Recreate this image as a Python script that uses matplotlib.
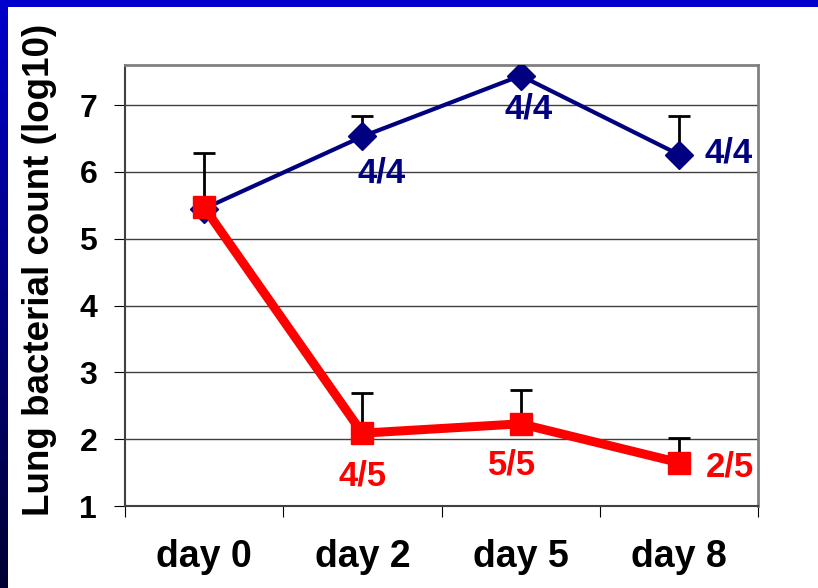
import numpy as np
import matplotlib.pyplot as plt
from matplotlib.patches import Rectangle

# data
days = ["day 0", "day 2", "day 5", "day 8"]
blue_vals = [5.45, 6.53, 7.44, 6.26]
blue_err = [0.0, 0.31, 0.2, 0.57]
blue_labels = ["", "4/4", "4/4", "4/4"]
red_vals = [5.47, 2.09, 2.23, 1.65]
red_err = [0.82, 0.6, 0.5, 0.37]
red_labels = ["", "4/5", "5/5", "2/5"]

navy = "#000080"
red = "#FF0000"
font = "Liberation Sans"

fig = plt.figure(figsize=(8.18, 5.88), dpi=100)
fig.patch.set_facecolor("white")

# blue slide frame: top bar and a gradient bar on the left
fig.patches.append(Rectangle((0, 1 - 7 / 588), 1, 7 / 588, transform=fig.transFigure,
                             facecolor="#0000CC", edgecolor="none", zorder=0))
grad = np.linspace(0, 1, 256).reshape(-1, 1)
bax = fig.add_axes([0, 0, 8 / 818, 1])
top_c = np.array([0.0, 0.0, 0.8])
bot_c = np.array([0.0, 0.0, 0.2])
img = top_c * (1 - grad[..., None]) + bot_c * grad[..., None]
bax.imshow(img, aspect="auto", extent=(0, 1, 0, 1))
bax.axis("off")

ax = fig.add_axes([125 / 818, 1 - 506 / 588, (758 - 125) / 818, (506 - 65) / 588])
x = np.arange(len(days))

ax.errorbar(x, red_vals, yerr=[np.zeros(4), red_err], fmt="none", ecolor="black",
            elinewidth=2, capsize=8, capthick=2, zorder=2)
ax.errorbar(x, blue_vals, yerr=[np.zeros(4), blue_err], fmt="none", ecolor="black",
            elinewidth=2, capsize=8, capthick=2, zorder=2)
ax.plot(x, blue_vals, color=navy, lw=3, marker="D", ms=14, zorder=3)
ax.plot(x, red_vals, color=red, lw=6.5, marker="s", ms=16, zorder=4)

blue_off = [(0, 0), (14, -26), (6, -24), (36, 1)]
red_off = [(0, 0), (0, -31), (-6, -30), (37, -3)]
for i in range(1, 4):
    ax.annotate(blue_labels[i], (x[i], blue_vals[i]), xytext=blue_off[i],
                textcoords="offset points", ha="center", va="center",
                color=navy, fontsize=25, fontweight="bold", family=font)
    ax.annotate(red_labels[i], (x[i], red_vals[i]), xytext=red_off[i],
                textcoords="offset points", ha="center", va="center",
                color=red, fontsize=25, fontweight="bold", family=font)

ax.set_xlim(-0.5, 3.5)
ax.set_ylim(1, 7.6)
ax.set_yticks(range(1, 8))
ax.yaxis.grid(True, color="#404040", lw=1)
ax.set_axisbelow(True)

ax.set_xticks(np.arange(-0.5, 4, 1))
ax.set_xticklabels([])
ax.set_xticks(x, minor=True)
ax.set_xticklabels(days, minor=True, fontsize=27, fontweight="bold", family=font)
ax.tick_params(axis="x", which="minor", length=0, pad=24)
ax.tick_params(axis="x", which="major", length=8, direction="out", color="black")
ax.tick_params(axis="y", length=8, direction="out", color="black", pad=12)
for lab in ax.get_yticklabels():
    lab.set_fontsize(23)
    lab.set_fontweight("bold")
    lab.set_family(font)

for side in ["top", "right"]:
    ax.spines[side].set_color("#808080")
    ax.spines[side].set_linewidth(2)
for side in ["left", "bottom"]:
    ax.spines[side].set_color("#404040")
    ax.spines[side].set_linewidth(1.5)

ax.set_ylabel("Lung bacterial count (log10)", fontsize=26.5, fontweight="bold",
              family=font)
ax.yaxis.set_label_coords(-0.108, 0.535)

fig.savefig("out.png", dpi=100)
